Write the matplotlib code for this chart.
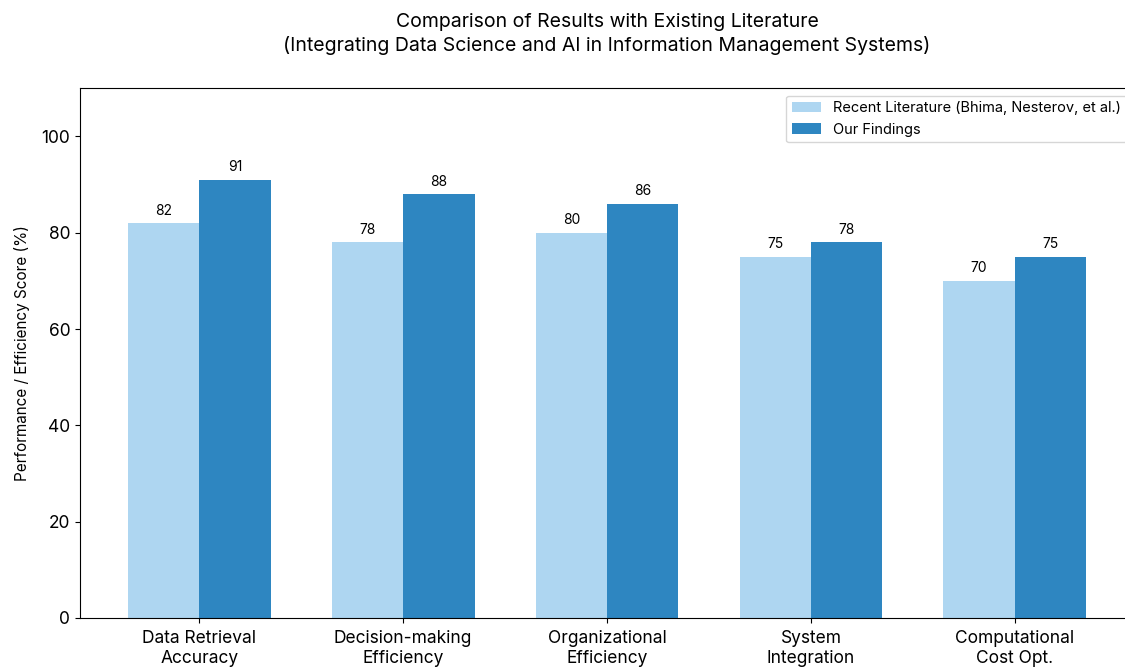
import numpy as np
import matplotlib
matplotlib.use('Agg')
import matplotlib.pyplot as plt

plt.rcParams['font.family'] = ['Inter', 'DejaVu Sans']

# Data
categories = ['Data Retrieval\nAccuracy', 'Decision-making\nEfficiency', 'Organizational\nEfficiency',
              'System\nIntegration', 'Computational\nCost Opt.']
literature = [82, 78, 80, 75, 70]
ours = [91, 88, 86, 78, 75]
series_names = ['Recent Literature (Bhima, Nesterov, et al.)', 'Our Findings']

fig = plt.figure(figsize=(11.25, 6.68), dpi=100)
ax = fig.add_axes([0.0711, 0.0749, 0.937, 0.793])

x = np.arange(len(categories))
w = 0.35
b1 = ax.bar(x - w / 2, literature, w, color='#AED6F1', label=series_names[0])
b2 = ax.bar(x + w / 2, ours, w, color='#2E86C1', label=series_names[1])

for bars in (b1, b2):
    for r in bars:
        ax.annotate(f'{r.get_height():.0f}', (r.get_x() + r.get_width() / 2, r.get_height()),
                    xytext=(0, 4), textcoords='offset points', ha='center', va='bottom', fontsize=10)

ax.set_ylim(0, 110)
ax.set_xticks(x)
ax.set_xticklabels(categories, fontsize=12.5, linespacing=1.25)
ax.tick_params(axis='x', pad=5)
ax.tick_params(axis='y', labelsize=12.5)
ax.set_ylabel('Performance / Efficiency Score (%)', fontsize=11, labelpad=8)
ax.set_title('Comparison of Results with Existing Literature\n'
             '(Integrating Data Science and AI in Information Management Systems)',
             fontsize=14, pad=27, linespacing=1.3)
ax.legend(loc='upper right', fontsize=10.5, borderaxespad=0.5)

fig.savefig('out.png', dpi=100)
